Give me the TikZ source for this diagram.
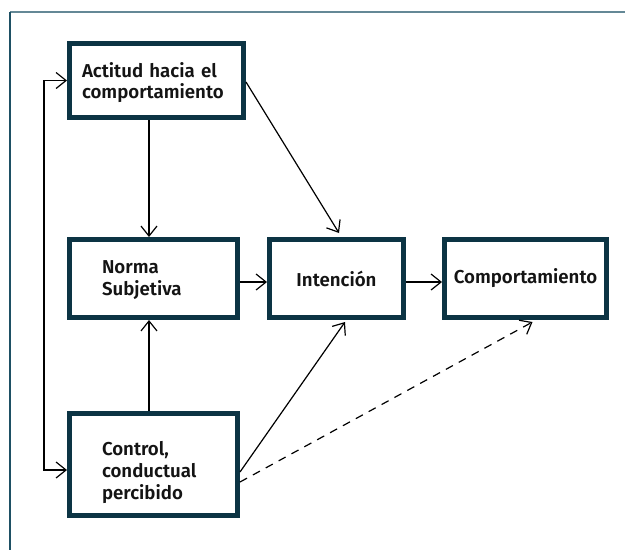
\documentclass[tikz,border=0pt]{standalone}
\usepackage{fontspec}
\setmainfont{Fira Sans}[UprightFont={* SemiBold}]
\usetikzlibrary{arrows.meta,calc}
\definecolor{boxc}{RGB}{12,52,68}
\definecolor{framet}{RGB}{100,136,150}
\definecolor{framel}{RGB}{30,80,100}
\definecolor{txt}{RGB}{20,20,20}
\newcommand\boxtext[3]{\fontsize{14}{#2}\selectfont\raisebox{#1}[\height][\depth]{\begin{tabular}{@{}l@{}}#3\end{tabular}}}
\begin{document}
\begin{tikzpicture}[x=0.75pt,y=-0.75pt,
  box/.style={draw=boxc,line width=3.75pt,fill=white,text=txt,
    font=\fontsize{14}{16}\selectfont,minimum height=58.5pt},
  lbox/.style={box,align=left,inner ysep=0pt},
  arr/.style={line width=0.9pt,-{Straight Barb[length=7.5pt,width=12pt]}},
]
\useasboundingbox (0,0) rectangle (625,550);
\draw[framet,line width=1.3pt] (10,12) -- (625,12);
\draw[framel,line width=0.9pt] (10,12) -- (10,550);

\node[lbox,minimum width=130.5pt,minimum height=55.5pt,inner xsep=9.375pt,text width=111.75pt] (act) at (156.5,80.5) {\boxtext{-2pt}{14.5pt}{Actitud hacia el\\comportamiento}};
\node[lbox,minimum width=126pt,inner xsep=24.375pt,text width=77.25pt] (norma) at (153.5,278.5) {\boxtext{-1pt}{16.5pt}{Norma\\Subjetiva}};
\node[box,minimum width=100.5pt] (int) at (336.5,278.5) {Intención};
\node[box,minimum width=121.5pt,inner xsep=0pt] (comp) at (525.5,278.5) {Comportamiento};
\node[lbox,minimum width=126pt,minimum height=76.5pt,inner xsep=24.375pt,text width=77.25pt] (ctrl) at (153.5,464.5) {\boxtext{-6.5pt}{16.3pt}{Control,\\conductual\\percibido}};

\coordinate (vx) at (149,0);
\coordinate (hy) at (0,282);

\draw[arr,{Straight Barb[length=7.5pt,width=12pt]}-{Straight Barb[length=7.5pt,width=12pt]}]
  (act.west) -- ++(-23,0) |- ($(ctrl.west)+(0,5.5)$);
\draw[arr] (vx |- act.south) -- (vx |- norma.north);
\draw[arr] (vx |- ctrl.north) -- (vx |- norma.south);
\draw[arr] (norma.east |- hy) -- (int.west |- hy);
\draw[arr] (int.east |- hy) -- (comp.west |- hy);
\draw[arr] ($(act.east)+(0,1.5)$) -- ($(int.north)+(2.5,-4)$);
\draw[arr] ($(ctrl.east)+(0,7.5)$) -- ($(int.south)+(8.5,2)$);
\draw[arr,dash pattern=on 6pt off 5pt] ($(ctrl.east)+(0,17.5)$) -- ($(comp.south)+(7,2)$);
\end{tikzpicture}
\end{document}
